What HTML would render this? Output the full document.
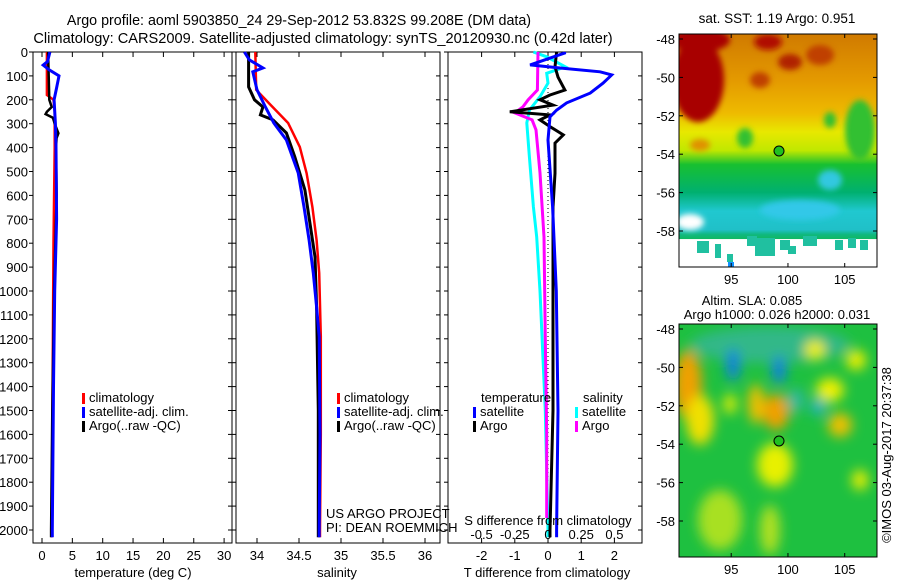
<!DOCTYPE html>
<html><head><meta charset="utf-8">
<style>
body{margin:0;background:#fff;}
svg{display:block;font-family:"Liberation Sans",sans-serif;}
text{fill:#000;}
</style></head>
<body>
<svg id="fig" width="900" height="580" viewBox="0 0 900 580">
<defs>
<filter id="bl" x="-50%" y="-50%" width="200%" height="200%"><feGaussianBlur stdDeviation="6"/></filter>
<filter id="bl2" x="-50%" y="-50%" width="200%" height="200%"><feGaussianBlur stdDeviation="3"/></filter>
<clipPath id="c1"><rect x="679" y="34" width="198" height="233"/></clipPath>
<clipPath id="c2"><rect x="679" y="324" width="198" height="233"/></clipPath>
<linearGradient id="sst" x1="0" y1="0" x2="0" y2="1">
<stop offset="0" stop-color="#d07a00"/><stop offset="0.2" stop-color="#e49a00"/>
<stop offset="0.34" stop-color="#eebb00"/><stop offset="0.42" stop-color="#e8e800"/>
<stop offset="0.5" stop-color="#c0e800"/><stop offset="0.56" stop-color="#18c030"/>
<stop offset="0.68" stop-color="#00b070"/><stop offset="0.76" stop-color="#20c8d0"/>
<stop offset="0.84" stop-color="#20c0c8"/><stop offset="0.86" stop-color="#10b880"/>
<stop offset="0.88" stop-color="#10b860"/><stop offset="0.881" stop-color="#fff"/><stop offset="1" stop-color="#fff"/>
</linearGradient>
</defs>
<text x="299" y="25" font-size="14.3" text-anchor="middle">Argo profile: aoml 5903850_24 29-Sep-2012 53.832S 99.208E (DM data)</text>
<text x="323" y="43" font-size="14.6" text-anchor="middle">Climatology: CARS2009. Satellite-adjusted climatology: synTS_20120930.nc (0.42d later)</text>

<g id="p1"></g>
<g id="p2"></g>
<g id="p3"></g>

<!-- top map -->
<g>
<text x="777" y="23" font-size="13.5" text-anchor="middle">sat. SST: 1.19 Argo: 0.951</text>
<g clip-path="url(#c1)">
<rect x="679" y="34" width="198" height="233" fill="url(#sst)"/>
<g filter="url(#bl2)">
<ellipse cx="698" cy="80" rx="26" ry="42" fill="#a80000"/>
<ellipse cx="700" cy="40" rx="30" ry="12" fill="#a80000"/>
<ellipse cx="768" cy="42" rx="14" ry="8" fill="#b01000"/>
<ellipse cx="790" cy="62" rx="12" ry="8" fill="#b02000"/>
<ellipse cx="820" cy="55" rx="14" ry="10" fill="#c04000"/>
<ellipse cx="760" cy="80" rx="10" ry="8" fill="#c04000"/>
<ellipse cx="700" cy="145" rx="10" ry="6" fill="#e09000"/>
<ellipse cx="860" cy="130" rx="15" ry="30" fill="#30c030"/>
<ellipse cx="830" cy="120" rx="6" ry="8" fill="#30c030"/>
<ellipse cx="745" cy="138" rx="8" ry="10" fill="#30c030"/>
<ellipse cx="800" cy="210" rx="40" ry="10" fill="#30c8e8"/>
<ellipse cx="830" cy="180" rx="12" ry="10" fill="#30c8e0"/>
<ellipse cx="690" cy="222" rx="14" ry="8" fill="#fff"/>
</g>
<g fill="#20c0a0">
<rect x="697" y="241" width="12" height="12"/><rect x="715" y="244" width="6" height="14"/>
<rect x="747" y="236" width="10" height="10"/><rect x="755" y="238" width="20" height="18"/>
<rect x="780" y="240" width="10" height="10"/><rect x="788" y="246" width="8" height="8"/>
<rect x="803" y="236" width="14" height="10"/><rect x="835" y="240" width="8" height="10"/>
<rect x="848" y="238" width="8" height="10"/><rect x="860" y="240" width="8" height="10"/>
<rect x="727" y="254" width="6" height="8"/>
</g>
<rect x="728" y="262" width="6" height="5" fill="#1090ff"/>
</g>
<rect x="679" y="34" width="198" height="233" fill="none" stroke="#000"/>
<circle cx="779" cy="151" r="5" fill="#20c020" stroke="#000"/>
</g>

<!-- bottom map -->
<g>
<text x="752" y="305" font-size="13" text-anchor="middle">Altim. SLA: 0.085</text>
<text x="777" y="319" font-size="13" text-anchor="middle">Argo h1000: 0.026 h2000: 0.031</text>
<g clip-path="url(#c2)">
<rect x="679" y="324" width="198" height="233" fill="#1ec040"/>
<g filter="url(#bl)">
<ellipse cx="770" cy="345" rx="80" ry="18" fill="#30b888"/>
<ellipse cx="688" cy="385" rx="14" ry="35" fill="#f0a000"/>
<ellipse cx="700" cy="420" rx="14" ry="25" fill="#f0e000"/>
<ellipse cx="733" cy="365" rx="7" ry="16" fill="#1080e0"/>
<ellipse cx="779" cy="370" rx="7" ry="14" fill="#1080e0"/>
<ellipse cx="756" cy="404" rx="8" ry="20" fill="#f0c000"/>
<ellipse cx="776" cy="412" rx="13" ry="18" fill="#f0a000"/>
<ellipse cx="775" cy="465" rx="18" ry="22" fill="#e8f000"/>
<ellipse cx="840" cy="425" rx="12" ry="12" fill="#f0c000"/>
<ellipse cx="830" cy="390" rx="14" ry="12" fill="#f0f000"/>
<ellipse cx="856" cy="360" rx="10" ry="10" fill="#f0f000"/>
<ellipse cx="815" cy="350" rx="10" ry="10" fill="#f0f000"/>
<ellipse cx="720" cy="520" rx="22" ry="30" fill="#a8e020"/>
<ellipse cx="770" cy="530" rx="10" ry="25" fill="#b0e020"/>
<ellipse cx="818" cy="407" rx="7" ry="8" fill="#20b0d0"/>
<ellipse cx="796" cy="400" rx="8" ry="12" fill="#30b8a0"/>
<ellipse cx="730" cy="404" rx="6" ry="10" fill="#f0f000"/>
<ellipse cx="860" cy="480" rx="8" ry="10" fill="#f0f000"/>
</g>
</g>
<rect x="679" y="324" width="198" height="233" fill="none" stroke="#000"/>
<circle cx="779" cy="441" r="5" fill="#20c020" stroke="#000"/>
</g>
<g id="mapaxes"></g>
<text transform="translate(891,455) rotate(-90)" font-size="13" text-anchor="middle">©IMOS 03-Aug-2017 20:37:38</text>
</svg>
<script>
// ---- data ----
const depthTicks=[0,100,200,300,400,500,600,700,800,900,1000,1100,1200,1300,1400,1500,1600,1700,1800,1900,2000];
const climTDepth=[0,180,200,250,400,800,1200,1600,2000,2030];
const climTVal=[0.8,0.8,1.9,2.1,2.1,1.9,1.8,1.7,1.6,1.6];
const satTDepth=[0,40,55,75,100,150,200,300,400,700,1000,1400,2000,2030];
const satTVal=[1.3,0.9,0.2,1.2,2.8,2.4,2.0,2.2,2.3,2.4,2.1,1.9,1.7,1.7];
const argoTDepth=[0,100,200,230,250,260,275,300,340,360,400,600,1000,1500,2000,2030];
const argoTVal=[1.0,1.1,1.2,1.6,0.8,0.6,1.8,2.1,2.7,2.4,2.3,2.4,2.0,1.7,1.5,1.5];
const climSDepth=[0,158,217,297,397,507,649,787,925,1190,1600,2000,2030];
const climSVal=[33.98,33.99,34.15,34.37,34.51,34.59,34.66,34.71,34.74,34.76,34.76,34.75,34.75];
const satSDepth=[0,33,67,83,158,230,297,368,506,648,787,925,1067,1192,1600,2000,2030];
const satSVal=[33.85,33.91,34.07,33.95,34.0,34.1,34.2,34.35,34.49,34.56,34.62,34.67,34.71,34.74,34.75,34.74,34.74];
const argoSDepth=[0,146,200,230,263,284,339,439,577,715,857,1067,1500,2000,2030];
const argoSVal=[33.9,33.9,33.97,34.07,34.04,34.19,34.35,34.45,34.57,34.63,34.69,34.71,34.73,34.73,34.73];
const dTsatDepth=[0,4,54,67,83,96,130,172,213,243,271,368,648,1000,1500,2000,2030];
const dTsatVal=[0.5,0.5,-0.54,0.36,1.57,1.92,1.66,1.27,0.56,0.26,0.06,0,0.14,0.25,0.3,0.26,0.26];
const dTargoDepth=[0,62,105,159,180,200,222,250,263,284,312,347,381,508,648,1000,1500,2000,2030];
const dTargoVal=[0.26,0.21,0.3,0.51,0.06,-0.24,0.15,-1.15,0.06,-0.24,0.06,0.46,0.21,0.21,0.15,0.15,0.15,0.06,0.06];
const dSsatDepth=[0,20,62,89,130,187,243,297,439,648,774,1000,1500,2000,2030];
const dSsatVal=[-0.11,-0.01,0.13,-0.01,0,-0.06,-0.14,-0.16,-0.14,-0.11,-0.085,-0.06,-0.02,0,0];
const dSargoDepth=[0,159,200,230,255,284,326,506,774,1200,1600,1950];
const dSargoVal=[-0.075,-0.08,-0.15,-0.19,-0.25,-0.12,-0.09,-0.06,-0.03,-0.02,-0.01,-0.01];
const tempTicks=[0,5,10,15,20,25,30];
const salTicks=[34,34.5,35,35.5,36];
const salTickLabels=["34","34.5","35","35.5","36"];
const dTTicks=[-2,-1,0,1,2];
const dSTicks=[-0.5,-0.25,0,0.25,0.5];
const dSTickLabels=["-0.5","-0.25","0","0.25","0.5"];
const latTicks=[-48,-50,-52,-54,-56,-58];
const lonTicks=[95,100,105];

const NS="http://www.w3.org/2000/svg";
function mk(tag,attrs,parent){const e=document.createElementNS(NS,tag);for(const k in attrs)e.setAttribute(k,attrs[k]);parent.appendChild(e);return e;}
function txt(s,x,y,parent,anchor,size){const t=mk('text',{x:x,y:y,'font-size':size||13,'text-anchor':anchor||'middle'},parent);t.textContent=s;return t;}

const TOP=52,BOT=543;
const yD=d=>TOP+d*0.239;
const xT=v=>42+v*6.07;
const xS=v=>257+(v-34)*84;
const xDT=v=>548+v*33.2;
const xDS=v=>548+v*132.8;

function line(p,dep,val,fx,color,w,name){
  const pts=dep.map((d,i)=>fx(val[i]).toFixed(1)+','+yD(d).toFixed(1)).join(' ');
  const el=mk('polyline',{points:pts,fill:'none',stroke:color,'stroke-width':w,'stroke-linejoin':'miter'},p);
  
  
}
function frame(p,x0,x1,name){
  const r=mk('rect',{x:x0,y:TOP,width:x1-x0,height:BOT-TOP,fill:'none',stroke:'#000'},p);
  
  
  depthTicks.forEach(d=>{mk('line',{x1:x0-4,x2:x0,y1:yD(d),y2:yD(d),stroke:'#000'},p);mk('line',{x1:x1,x2:x1-4,y1:yD(d),y2:yD(d),stroke:'#000'},p);});
}
function xticks(p,ticks,fx){ticks.forEach(v=>{const x=fx(v);mk('line',{x1:x,x2:x,y1:TOP,y2:TOP+5,stroke:'#000'},p);mk('line',{x1:x,x2:x,y1:BOT,y2:BOT-5,stroke:'#000'},p);});}
function legend(p,x,y,items){items.forEach((it,i)=>{mk('rect',{x:x,y:y+i*14-9,width:3,height:11,fill:it[1]},p);const t=txt(it[0],x+7,y+i*14,p,'start');});}

// panel 1
const p1=document.getElementById('p1');
frame(p1,33,232,'temperature-axes-frame');
depthTicks.forEach(d=>{const t=txt(String(d),28,yD(d)+5,p1,'end');});
xticks(p1,tempTicks,xT);
tempTicks.forEach(v=>{const t=txt(String(v),xT(v),560,p1);});
const t1=txt('temperature (deg C)',133,577,p1);
line(p1,climTDepth,climTVal,xT,'#ff0000',2.5,'temp-climatology-line');
line(p1,argoTDepth,argoTVal,xT,'#000',2.5,'temp-argo-line');
line(p1,satTDepth,satTVal,xT,'#0000ff',3,'temp-satellite-line');
legend(p1,82,402,[['climatology','#ff0000'],['satellite-adj. clim.','#0000ff'],['Argo(..raw -QC)','#000']]);

// panel 2
const p2=document.getElementById('p2');
frame(p2,236,440,'salinity-axes-frame');
xticks(p2,salTicks,xS);
salTicks.forEach((v,i)=>{const t=txt(salTickLabels[i],xS(v),560,p2);});
const t2=txt('salinity',337,577,p2);
line(p2,climSDepth,climSVal,xS,'#ff0000',2.5,'sal-climatology-line');
line(p2,argoSDepth,argoSVal,xS,'#000',3,'sal-argo-line');
line(p2,satSDepth,satSVal,xS,'#0000ff',3,'sal-satellite-line');
legend(p2,337,402,[['climatology','#ff0000'],['satellite-adj. clim.','#0000ff'],['Argo(..raw -QC)','#000']]);
const a=txt('US ARGO PROJECT',326,518,p2,'start');
const b=txt('PI: DEAN ROEMMICH',326,532,p2,'start');

// panel 3
const p3=document.getElementById('p3');
frame(p3,448,642,'difference-axes-frame');
xticks(p3,dTTicks,xDT);
mk('line',{x1:548,x2:548,y1:TOP,y2:BOT,stroke:'#000','stroke-dasharray':'1,3'},p3);
dTTicks.forEach(v=>{const t=txt(String(v),xDT(v),560,p3);});
const t3=txt('T difference from climatology',547,577,p3);
line(p3,dSsatDepth,dSsatVal,xDS,'#00ffff',3,'s-diff-satellite-line');
line(p3,dSargoDepth,dSargoVal,xDS,'#ff00ff',3,'s-diff-argo-line');
line(p3,dTargoDepth,dTargoVal,xDT,'#000',3,'t-diff-argo-line');
line(p3,dTsatDepth,dTsatVal,xDT,'#0000ff',3,'t-diff-satellite-line');
const sl=txt('S difference from climatology',548,525,p3);
dSTicks.forEach((v,i)=>{const t=txt(dSTickLabels[i],xDS(v),539,p3);});
txt('temperature',481,402,p3,'start');
txt('salinity',583,402,p3,'start');
legend(p3,473,416,[['satellite','#0000ff'],['Argo','#000']]);
legend(p3,575,416,[['satellite','#00ffff'],['Argo','#ff00ff']]);

// map axes
const ma=document.getElementById('mapaxes');
const latY=(l,top)=>top+5+(-48-l)*19.2;
const lonX=l=>679+(l-90.4)*11.35;
[34,324].forEach(top=>{
  latTicks.forEach(l=>{const y=latY(l,top);mk('line',{x1:679,x2:683,y1:y,y2:y,stroke:'#000'},ma);mk('line',{x1:877,x2:873,y1:y,y2:y,stroke:'#000'},ma);
    const t=txt(String(l),675,y+5,ma,'end');});
  lonTicks.forEach(l=>{const x=lonX(l);mk('line',{x1:x,x2:x,y1:top,y2:top+4,stroke:'#000'},ma);mk('line',{x1:x,x2:x,y1:top+233,y2:top+229,stroke:'#000'},ma);
    const t=txt(String(l),x,top+250,ma);});
});
</script>
</body></html>
